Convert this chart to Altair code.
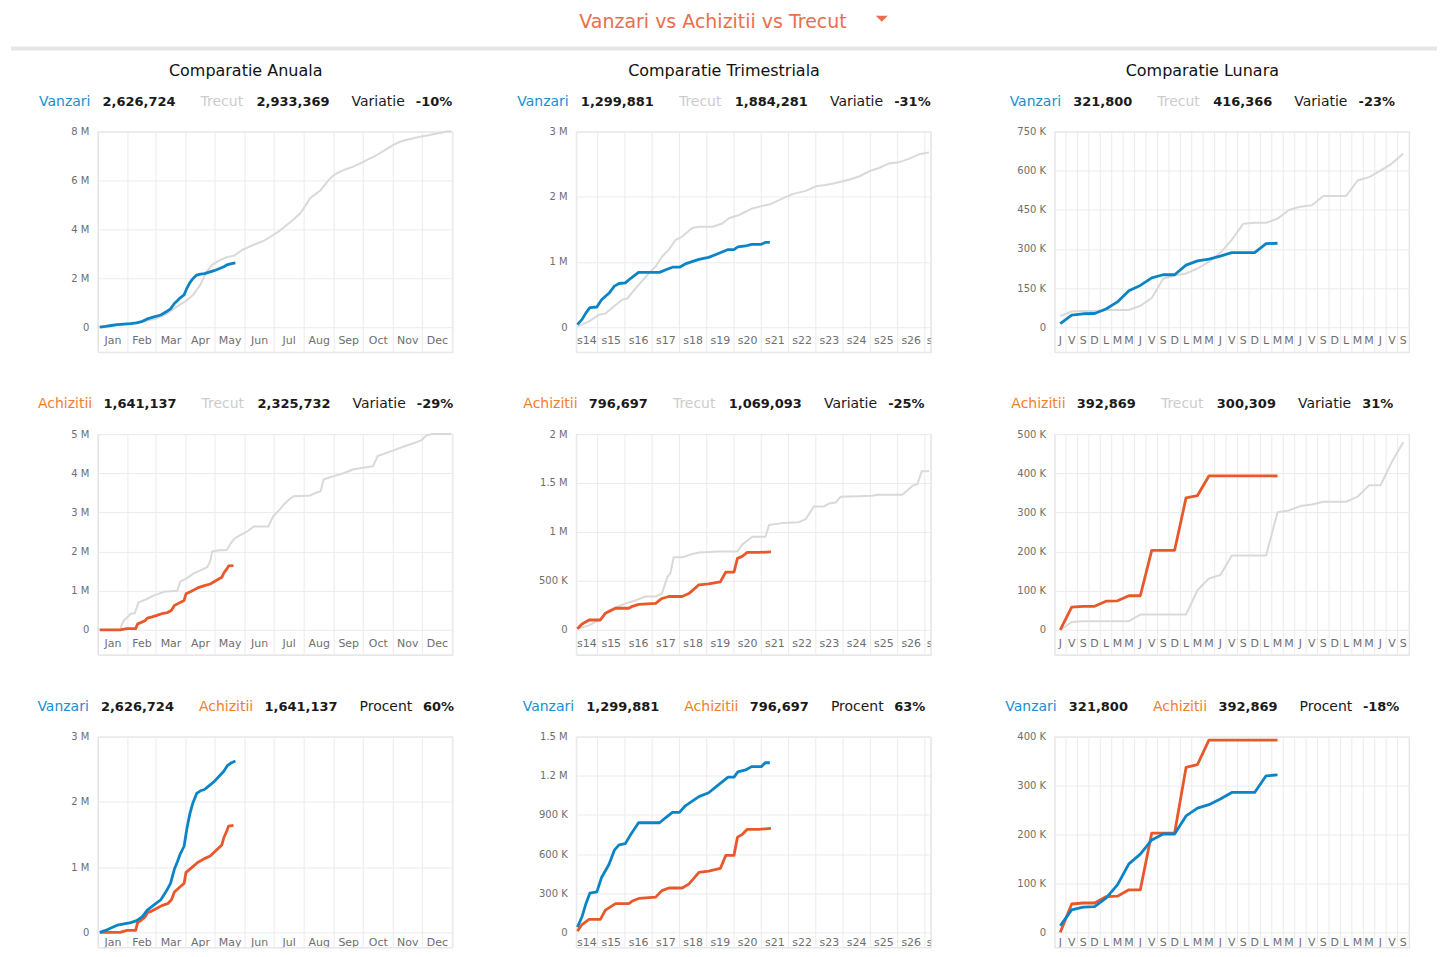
import altair as alt
import pandas as pd

# ---------------- categories / tick labels ----------------
MONTHS = ["Jan", "Feb", "Mar", "Apr", "May", "Jun", "Jul", "Aug", "Sep", "Oct", "Nov", "Dec"]
MONTH_STARTS = [0, 31, 60, 91, 121, 152, 182, 213, 244, 274, 305, 335, 366]
WEEKS = ["s14", "s15", "s16", "s17", "s18", "s19", "s20", "s21", "s22", "s23", "s24", "s25", "s26", "s27"]
WEEK_EDGES = [0, 5.5, 12.5, 19.5, 26.5, 33.5, 40.5, 47.5, 54.5, 61.5, 68.5, 75.5, 82.5, 89.5, 91]
DAY_LABELS = ["J", "V", "S", "D", "L", "M", "M", "J", "V", "S", "D", "L", "M", "M", "J", "V",
              "S", "D", "L", "M", "M", "J", "V", "S", "D", "L", "M", "M", "J", "V", "S"]

# ---------------- yearly series (day of year, millions) ----------------
YR_SALES_DAY = [2, 8, 14, 20, 27, 34, 40, 46, 51, 58, 65, 71, 75, 79, 82, 85, 89, 92, 95, 98,
                102, 106, 110, 115, 120, 125, 130, 134, 138, 142]
YR_SALES_M = [0.0, 0.03, 0.07, 0.11, 0.13, 0.15, 0.18, 0.24, 0.34, 0.42, 0.5, 0.64, 0.75, 0.97, 1.08,
              1.2, 1.32, 1.6, 1.82, 1.98, 2.13, 2.17, 2.19, 2.25, 2.31, 2.39, 2.47, 2.56, 2.6, 2.627]
YR_SALES_PREV_DAY = [0, 15, 31, 45, 59, 66, 73, 80, 86, 92, 99, 106, 112, 118, 125, 133, 141, 149, 161, 172,
                     181, 188, 195, 202, 209, 214, 219, 225, 230, 236, 240, 245, 250, 257, 264, 271, 278,
                     285, 291, 298, 305, 312, 319, 326, 333, 340, 346, 353, 360, 365]
YR_SALES_PREV_M = [0, 0.08, 0.15, 0.22, 0.33, 0.45, 0.6, 0.8, 0.95, 1.1, 1.35, 1.75, 2.25, 2.55, 2.72, 2.86,
                   2.93, 3.16, 3.37, 3.55, 3.77, 3.95, 4.18, 4.4, 4.66, 4.95, 5.27, 5.45, 5.6, 5.9, 6.09,
                   6.25, 6.36, 6.47, 6.57, 6.7, 6.84, 6.97, 7.11, 7.28, 7.45, 7.58, 7.66, 7.72, 7.79, 7.84,
                   7.89, 7.94, 8.0, 8.0]
YR_PURCH_DAY = [2, 10, 23, 30, 39, 41, 45, 49, 51, 56, 61, 66, 72, 76, 79, 85, 89, 91, 96, 103, 110,
                116, 123, 128, 130, 133, 135, 140]
YR_PURCH_M = [0, 0, 0.0, 0.03, 0.03, 0.15, 0.19, 0.24, 0.3, 0.33, 0.37, 0.41, 0.44, 0.5, 0.62, 0.7,
              0.75, 0.92, 0.98, 1.07, 1.13, 1.17, 1.27, 1.34, 1.45, 1.55, 1.63, 1.641]
YR_PURCH_PREV_DAY = [0, 23, 25, 27, 34, 38, 42, 50, 58, 68, 82, 85, 92, 99, 106, 113, 116, 118, 125, 133,
                     137, 141, 147, 154, 161, 168, 176, 181, 187, 192, 197, 202, 210, 219, 225, 230, 233,
                     240, 250, 257, 264, 274, 284, 289, 296, 308, 318, 329, 335, 339, 345, 352, 360, 365]
YR_PURCH_PREV_M = [0, 0, 0.15, 0.24, 0.41, 0.42, 0.7, 0.78, 0.88, 0.97, 1.0, 1.23, 1.32, 1.44, 1.52, 1.6,
                   1.75, 2.0, 2.03, 2.04, 2.2, 2.33, 2.42, 2.51, 2.64, 2.64, 2.64, 2.9, 3.05, 3.2, 3.32,
                   3.41, 3.42, 3.43, 3.5, 3.54, 3.84, 3.9, 3.97, 4.03, 4.1, 4.14, 4.18, 4.44, 4.5, 4.61,
                   4.7, 4.79, 4.86, 4.96, 5.0, 5.0, 5.0, 5.0]

# ---------------- quarterly series (day of quarter, millions) ----------------
Q_SALES_DAY = [0.3, 1.5, 2.5, 3.5, 5.3, 6.5, 8.4, 9.8, 11, 12.6, 14, 16, 18, 21.4, 23, 24.7, 26.5, 28,
               31.5, 34, 36.5, 39, 40.5, 41.5, 43.5, 45, 47.5, 48.5, 49.7]
Q_SALES_M = [0.04, 0.12, 0.22, 0.3, 0.31, 0.42, 0.52, 0.63, 0.67, 0.68, 0.75, 0.84, 0.84, 0.84, 0.88,
             0.92, 0.92, 0.97, 1.04, 1.07, 1.13, 1.19, 1.19, 1.23, 1.245, 1.27, 1.27, 1.3, 1.30]
Q_SALES_PREV_DAY = [0.3, 3.3, 5.8, 7.5, 9.7, 11.8, 13.1, 16, 18.7, 20.4, 22, 23.8, 25.5, 27.2, 29.8, 31.5,
                    35, 37.5, 39.2, 41.8, 45.2, 47.8, 50, 52.9, 55.5, 58.9, 61.5, 64, 66.6, 70, 72.6,
                    75.2, 77.7, 80.3, 82.9, 85.4, 88, 90.6]
Q_SALES_PREV_M = [0.01, 0.09, 0.19, 0.21, 0.32, 0.42, 0.44, 0.65, 0.83, 0.93, 1.08, 1.19, 1.34, 1.39,
                  1.52, 1.54, 1.54, 1.59, 1.67, 1.72, 1.82, 1.86, 1.89, 1.97, 2.04, 2.09, 2.16, 2.18,
                  2.21, 2.26, 2.31, 2.39, 2.44, 2.51, 2.53, 2.58, 2.65, 2.68]
Q_PURCH_DAY = [0.3, 1.5, 3.3, 5, 6.2, 7.5, 10.1, 13.5, 14.4, 16.1, 20.4, 22, 23.8, 27.2, 28.9, 29.8,
               31.5, 34, 37, 38.4, 40.5, 41.4, 42.6, 43.9, 46.9, 50]
Q_PURCH_M = [0.01, 0.06, 0.1, 0.1, 0.1, 0.17, 0.22, 0.22, 0.24, 0.26, 0.27, 0.32, 0.34, 0.34, 0.37, 0.4,
             0.46, 0.47, 0.49, 0.59, 0.59, 0.73, 0.75, 0.79, 0.79, 0.797]
Q_PURCH_PREV_DAY = [0.3, 3.3, 5.8, 8.4, 12.7, 15.2, 17.8, 20.4, 22, 23.4, 24.2, 25, 27.2, 29.8, 31.5,
                    36.6, 41.4, 42.6, 45.2, 48.6, 49.5, 52.9, 57.2, 58.9, 61, 63.6, 64.9, 66.6, 67.9,
                    72.6, 76, 77.3, 83.7, 86.3, 87.6, 88.7, 90.6]
Q_PURCH_PREV_M = [0.01, 0.045, 0.1, 0.2, 0.27, 0.3, 0.34, 0.34, 0.37, 0.54, 0.58, 0.74, 0.74, 0.775,
                  0.79, 0.8, 0.8, 0.87, 0.95, 0.95, 1.07, 1.09, 1.1, 1.13, 1.26, 1.26, 1.29, 1.3, 1.36,
                  1.365, 1.37, 1.38, 1.38, 1.47, 1.49, 1.62, 1.62]

# ---------------- monthly series (day index, thousands) ----------------
M_SALES_K = [13.6, 46, 51.5, 52.5, 70, 97, 140, 160, 189, 201, 201, 238, 254, 261, 272.6, 286, 286,
             286, 320, 321.8]
M_SALES_PREV_K = [43, 60, 62, 62, 66, 66, 66, 82, 112, 186, 198, 206, 225, 250, 285, 335, 396, 400,
                  400, 416, 449, 462, 467, 503, 503, 503, 562, 575, 600, 627, 666]
M_PURCH_K = [0, 58, 60, 60, 73, 74, 87, 87, 203, 203, 203, 337, 343, 393, 393, 393, 393, 393, 393,
             392.9]
M_PURCH_PREV_K = [0, 20, 22, 22, 22, 22, 22, 39, 39, 39, 39, 39, 101, 131, 140, 190, 190, 190, 190,
                  300, 305, 316, 320, 327, 327, 327, 340, 369, 369, 429, 479]

# ---------------- header texts ----------------
HEADERS = [
    ["Vanzari", "2,626,724", "Trecut", "2,933,369", "Variatie", "-10%"],
    ["Vanzari", "1,299,881", "Trecut", "1,884,281", "Variatie", "-31%"],
    ["Vanzari", "321,800", "Trecut", "416,366", "Variatie", "-23%"],
    ["Achizitii", "1,641,137", "Trecut", "2,325,732", "Variatie", "-29%"],
    ["Achizitii", "796,697", "Trecut", "1,069,093", "Variatie", "-25%"],
    ["Achizitii", "392,869", "Trecut", "300,309", "Variatie", "31%"],
    ["Vanzari", "2,626,724", "Achizitii", "1,641,137", "Procent", "60%"],
    ["Vanzari", "1,299,881", "Achizitii", "796,697", "Procent", "63%"],
    ["Vanzari", "321,800", "Achizitii", "392,869", "Procent", "-18%"],
]
COL_TITLES = ["Comparatie Anuala", "Comparatie Trimestriala", "Comparatie Lunara"]
MAIN_TITLE = "Vanzari vs Achizitii vs Trecut"

# ---------------- styling ----------------
FONT = "DejaVu Sans"
BLUE = "#0b84c6"
BLUE_T = "#1a8ed0"
ORANGE = "#e8582a"
ORANGE_T = "#f07e2e"
GRAY_L = "#d9d9d9"
GRAY_T = "#cccccc"
DARK = "#1a1a1a"
GRID = "#ebebeb"
LBL = "#6e6e6e"
TITLE_C = "#ea6e4d"
LABEL_COL = {"Vanzari": BLUE_T, "Achizitii": ORANGE_T, "Trecut": GRAY_T, "Variatie": DARK, "Procent": DARK}

W, H, H0 = 355, 221, 196
H_LAST = 211

REG = {'A': .684, 'C': .698, 'P': .603, 'T': .611, 'V': .684, 'a': .613, 'c': .550, 'e': .615,
       'h': .634, 'i': .278, 'l': .278, 'm': .974, 'n': .634, 'o': .612, 'p': .635, 'r': .411,
       's': .521, 't': .392, 'u': .634, 'v': .592, 'z': .525, ' ': .318}
BOLD = {',': .380, '-': .415, '%': 1.002, '.': .380}
for _d in "0123456789":
    BOLD[_d] = .696
FS_LAB, FS_VAL = 14, 13
GAPS = [11, 25, 11, 22, 10]


def text_w(s, bold, fs):
    tab = BOLD if bold else REG
    return sum(tab.get(ch, 0.62) for ch in s) * fs


def header_layers(segs):
    widths = [text_w(s, i % 2 == 1, FS_VAL if i % 2 else FS_LAB) for i, s in enumerate(segs)]
    total = sum(widths) + sum(GAPS)
    x = 148 - total / 2
    regs, bolds = [], []
    for i, s in enumerate(segs):
        if i % 2 == 0:
            regs.append({"px": x, "py": -30, "t": s, "col": LABEL_COL.get(s, DARK)})
        else:
            bolds.append({"px": x, "py": -30, "t": s, "col": DARK})
        x += widths[i] + (GAPS[i] if i < len(GAPS) else 0)
    enc = dict(x=alt.X("px:Q", scale=None, axis=None), y=alt.Y("py:Q", scale=None, axis=None),
               text="t:N", color=alt.Color("col:N", scale=None, legend=None))
    l1 = alt.Chart(pd.DataFrame(regs)).mark_text(align="left", baseline="middle", font=FONT,
                                                 fontSize=FS_LAB).encode(**enc)
    l2 = alt.Chart(pd.DataFrame(bolds)).mark_text(align="left", baseline="middle", font=FONT,
                                                  fontSize=FS_VAL, fontWeight="bold").encode(**enc)
    return [l1, l2]


LABEL_EXPR = ("datum.value == 0 ? '0' : datum.value >= 1000000 ? format(datum.value / 1000000, '~g') + ' M'"
              " : format(datum.value / 1000, '~g') + ' K'")


def panel(kind, series, ymax, ticks, header, title=None, top=False, last=False):
    if kind == "year":
        dom, edges, labels = [0, 366], MONTH_STARTS, MONTHS
        centers = [(edges[i] + edges[i + 1]) / 2 for i in range(len(labels))]
    elif kind == "quarter":
        dom, edges, labels = [0, 91], WEEK_EDGES, WEEKS
        centers = [(edges[i] + edges[i + 1]) / 2 for i in range(len(labels) - 1)]
        centers.append(edges[-2] + 3)  # last (partial) week label, cut at the edge
    else:
        dom, edges, labels = [-0.5, 30.5], [i - 0.5 for i in range(32)], DAY_LABELS
        centers = list(range(len(labels)))
    hp = H_LAST if last else H
    ymin = -ymax * (hp - H0) / H0
    xs = alt.Scale(domain=dom, nice=False, zero=False)
    ys = alt.Scale(domain=[ymin, ymax], nice=False, zero=False)

    vlines = alt.Chart(pd.DataFrame({"b": edges})).mark_rule(color=GRID, strokeWidth=1).encode(
        x=alt.X("b:Q", scale=xs, axis=None), y=alt.value(0), y2=alt.value(hp))
    layers = [vlines]
    if not last:
        layers.append(alt.Chart(pd.DataFrame({"a": [0]})).mark_rule(color=GRID, strokeWidth=1).encode(
            x=alt.value(0), x2=alt.value(W), y=alt.value(H)))
    layers.append(alt.Chart(pd.DataFrame({"c": centers, "t": labels})).mark_text(
        font=FONT, fontSize=11, color=LBL, baseline="middle", clip=True).encode(
        x=alt.X("c:Q", scale=xs, axis=None), y=alt.value(H0 + (11 if last else 14)), text="t:N"))

    yenc = alt.Y("v:Q", scale=ys, axis=alt.Axis(
        values=ticks, title=None, grid=True, gridColor=GRID, domain=False, ticks=False,
        labelColor=LBL, labelFont=FONT, labelFontSize=10, labelPadding=9, labelExpr=LABEL_EXPR))
    for xd, vals, mult, color, sw in series:
        df = pd.DataFrame({"d": xd, "v": [v * mult for v in vals]})
        layers.append(alt.Chart(df).mark_line(color=color, strokeWidth=sw, strokeJoin="round").encode(
            x=alt.X("d:Q", scale=xs, axis=None), y=yenc))

    layers += header_layers(header)
    if title:
        layers.append(alt.Chart(pd.DataFrame({"t": [title]})).mark_text(
            font=FONT, fontSize=16, color="#111111", align="center", baseline="middle").encode(
            x=alt.value(148), y=alt.value(-60.5), text="t:N"))
    if top:
        layers.append(alt.Chart(pd.DataFrame({"a": [0]})).mark_rule(color="#e6e6e6", strokeWidth=4).encode(
            x=alt.value(-566), x2=alt.value(862), y=alt.value(-83)))
        layers.append(alt.Chart(pd.DataFrame({"t": [MAIN_TITLE]})).mark_text(
            font=FONT, fontSize=19, color=TITLE_C, align="center", baseline="middle").encode(
            x=alt.value(137), y=alt.value(-110), text="t:N"))
        layers.append(alt.Chart(pd.DataFrame({"a": [0]})).mark_point(
            shape="M -1 -0.5 L 1 -0.5 L 0 0.5 Z", filled=True, size=144, color=TITLE_C, opacity=1).encode(
            x=alt.value(306), y=alt.value(-113)))
    return alt.layer(*layers).properties(width=W, height=hp)


DAYS20 = list(range(len(M_SALES_K)))
DAYS31 = list(range(len(M_SALES_PREV_K)))
LW = 2.8

p1 = panel("year", [(YR_SALES_PREV_DAY, YR_SALES_PREV_M, 1e6, GRAY_L, 2),
                    (YR_SALES_DAY, YR_SALES_M, 1e6, BLUE, LW)],
           8e6, [0, 2e6, 4e6, 6e6, 8e6], HEADERS[0], COL_TITLES[0])
p2 = panel("quarter", [(Q_SALES_PREV_DAY, Q_SALES_PREV_M, 1e6, GRAY_L, 2),
                       (Q_SALES_DAY, Q_SALES_M, 1e6, BLUE, LW)],
           3e6, [0, 1e6, 2e6, 3e6], HEADERS[1], COL_TITLES[1], top=True)
p3 = panel("month", [(DAYS31, M_SALES_PREV_K, 1e3, GRAY_L, 2),
                     (DAYS20, M_SALES_K, 1e3, BLUE, LW)],
           750e3, [0, 150e3, 300e3, 450e3, 600e3, 750e3], HEADERS[2], COL_TITLES[2])
p4 = panel("year", [(YR_PURCH_PREV_DAY, YR_PURCH_PREV_M, 1e6, GRAY_L, 2),
                    (YR_PURCH_DAY, YR_PURCH_M, 1e6, ORANGE, LW)],
           5e6, [0, 1e6, 2e6, 3e6, 4e6, 5e6], HEADERS[3])
p5 = panel("quarter", [(Q_PURCH_PREV_DAY, Q_PURCH_PREV_M, 1e6, GRAY_L, 2),
                       (Q_PURCH_DAY, Q_PURCH_M, 1e6, ORANGE, LW)],
           2e6, [0, 5e5, 1e6, 1.5e6, 2e6], HEADERS[4])
p6 = panel("month", [(DAYS31, M_PURCH_PREV_K, 1e3, GRAY_L, 2),
                     (DAYS20, M_PURCH_K, 1e3, ORANGE, LW)],
           5e5, [0, 1e5, 2e5, 3e5, 4e5, 5e5], HEADERS[5])
p7 = panel("year", [(YR_PURCH_DAY, YR_PURCH_M, 1e6, ORANGE, LW),
                    (YR_SALES_DAY, YR_SALES_M, 1e6, BLUE, LW)],
           3e6, [0, 1e6, 2e6, 3e6], HEADERS[6], last=True)
p8 = panel("quarter", [(Q_PURCH_DAY, Q_PURCH_M, 1e6, ORANGE, LW),
                       (Q_SALES_DAY, Q_SALES_M, 1e6, BLUE, LW)],
           1.5e6, [0, 3e5, 6e5, 9e5, 1.2e6, 1.5e6], HEADERS[7], last=True)
p9 = panel("month", [(DAYS20, M_PURCH_K, 1e3, ORANGE, LW),
                     (DAYS20, M_SALES_K, 1e3, BLUE, LW)],
           4e5, [0, 1e5, 2e5, 3e5, 4e5], HEADERS[8], last=True)

chart = alt.concat(p1, p2, p3, p4, p5, p6, p7, p8, p9, columns=3,
                   spacing={"row": 82, "column": 124}, bounds="flush").properties(
    padding={"left": 0, "top": 3, "right": 0, "bottom": 0}
).configure_view(stroke=None).configure(font=FONT)

chart.save("out.html", embed_options={"renderer": "svg", "actions": False})
